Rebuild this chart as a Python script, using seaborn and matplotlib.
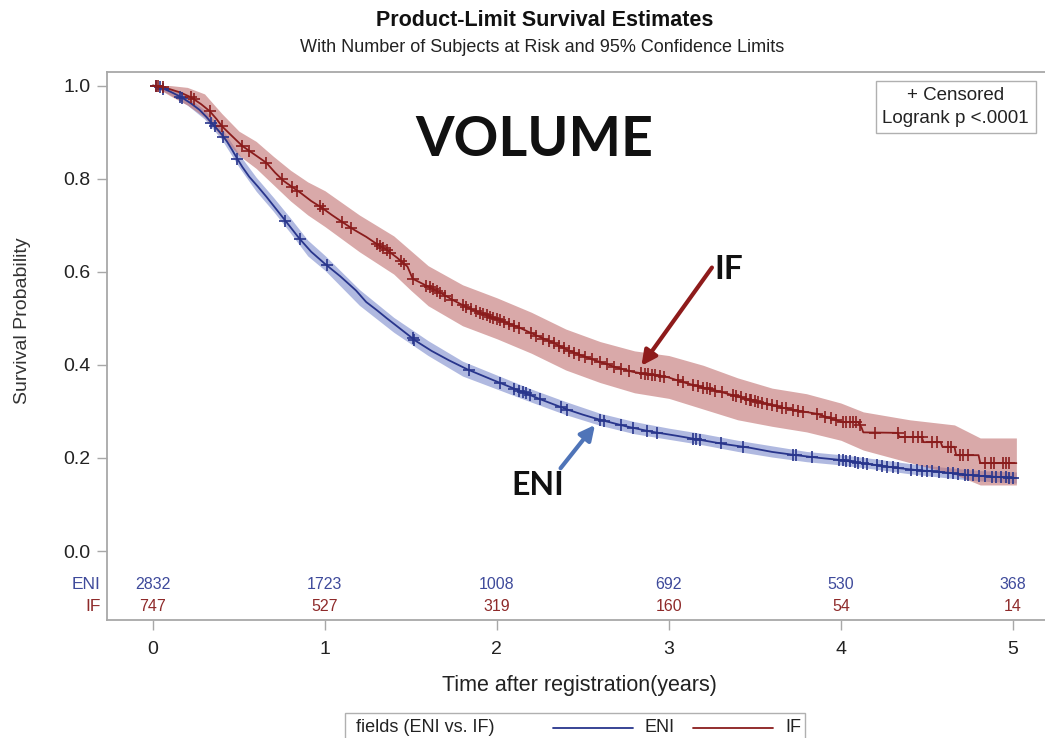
import numpy as np
import pandas as pd
import matplotlib
matplotlib.use("Agg")
import matplotlib.pyplot as plt
from matplotlib.lines import Line2D
from matplotlib.patches import Rectangle
from matplotlib.ticker import FormatStrFormatter
import seaborn as sns

# ---- Product-limit estimates (time in years, survival probability) ----
eni_time = [0.00, 0.05, 0.10, 0.16, 0.22, 0.27, 0.31, 0.34, 0.37, 0.40, 0.43, 0.46,
            0.49, 0.52, 0.56, 0.61, 0.66, 0.72, 0.78, 0.85, 0.92, 1.00, 1.09, 1.18,
            1.24, 1.30, 1.36, 1.44, 1.53, 1.62, 1.72, 1.83, 1.98, 2.12, 2.26, 2.41,
            2.50, 2.60, 2.75, 2.89, 3.04, 3.18, 3.32, 3.47, 3.60, 3.74, 3.88, 3.99,
            4.12, 4.24, 4.34, 4.44, 4.54, 4.63, 4.73, 4.83, 4.92, 5.02]
eni_surv = [1.000, 0.995, 0.987, 0.976, 0.962, 0.948, 0.933, 0.920, 0.908, 0.895, 0.880, 0.862,
            0.843, 0.825, 0.804, 0.783, 0.761, 0.733, 0.705, 0.672, 0.643, 0.617, 0.590, 0.560,
            0.535, 0.518, 0.500, 0.477, 0.451, 0.430, 0.410, 0.390, 0.367, 0.346, 0.325, 0.304,
            0.293, 0.282, 0.268, 0.257, 0.248, 0.239, 0.230, 0.222, 0.213, 0.206, 0.200, 0.196,
            0.189, 0.183, 0.178, 0.174, 0.171, 0.168, 0.164, 0.161, 0.159, 0.157]

# late IF drops are few and large, so each step is given as a start/end pair
if_time = [0.00, 0.05, 0.10, 0.16, 0.22, 0.28, 0.33, 0.37, 0.40, 0.45, 0.52, 0.59,
           0.66, 0.71, 0.76, 0.81, 0.86, 0.92, 0.98, 1.04, 1.10, 1.17, 1.24, 1.30,
           1.36, 1.42, 1.48, 1.51, 1.59, 1.67, 1.75, 1.83, 1.90, 1.98, 2.06, 2.13,
           2.23, 2.33, 2.41, 2.50, 2.60, 2.70, 2.79, 2.89, 2.99, 3.08, 3.18, 3.28,
           3.37, 3.47, 3.57, 3.66, 3.76, 3.86, 3.94, 4.01, 4.10, 4.12, 4.13, 4.33,
           4.34, 4.47, 4.48, 4.58, 4.59, 4.66, 4.67, 4.80, 4.81, 5.02]
if_surv = [1.000, 0.997, 0.992, 0.985, 0.975, 0.960, 0.945, 0.928, 0.913, 0.895, 0.870, 0.852,
           0.834, 0.813, 0.795, 0.782, 0.769, 0.752, 0.738, 0.722, 0.707, 0.690, 0.675, 0.660,
           0.647, 0.630, 0.611, 0.585, 0.570, 0.555, 0.538, 0.523, 0.512, 0.501, 0.490, 0.480,
           0.463, 0.447, 0.432, 0.419, 0.406, 0.394, 0.385, 0.379, 0.374, 0.363, 0.353, 0.344,
           0.335, 0.325, 0.316, 0.308, 0.301, 0.295, 0.285, 0.277, 0.277, 0.265, 0.255, 0.254,
           0.245, 0.245, 0.234, 0.234, 0.224, 0.224, 0.206, 0.206, 0.189, 0.189]

# ---- 95% confidence limits ----
eni_ci_time = [0.00, 0.10, 0.20, 0.30, 0.40, 0.50, 0.60, 0.70, 0.80, 0.90, 1.00, 1.20,
               1.40, 1.60, 1.80, 2.00, 2.20, 2.40, 2.60, 2.80, 3.00, 3.20, 3.40, 3.60,
               3.80, 4.00, 4.20, 4.40, 4.60, 4.80, 5.02]
eni_ci_lower = [1.000, 0.980, 0.958, 0.928, 0.884, 0.825, 0.773, 0.730, 0.683, 0.634, 0.603, 0.528,
                0.470, 0.420, 0.376, 0.348, 0.320, 0.293, 0.270, 0.252, 0.240, 0.228, 0.214, 0.202,
                0.192, 0.185, 0.176, 0.166, 0.158, 0.151, 0.146]
eni_ci_upper = [1.000, 0.994, 0.976, 0.948, 0.908, 0.853, 0.803, 0.760, 0.715, 0.668, 0.635, 0.562,
                0.502, 0.452, 0.408, 0.378, 0.348, 0.321, 0.296, 0.278, 0.264, 0.252, 0.238, 0.226,
                0.214, 0.207, 0.198, 0.188, 0.180, 0.173, 0.170]

if_ci_time = [0.00, 0.10, 0.20, 0.30, 0.40, 0.50, 0.60, 0.70, 0.80, 0.90, 1.00, 1.20,
              1.40, 1.50, 1.60, 1.80, 2.00, 2.20, 2.40, 2.60, 2.80, 3.00, 3.20, 3.40,
              3.60, 3.80, 4.00, 4.13, 4.40, 4.66, 4.81, 5.02]
if_ci_lower = [1.000, 0.978, 0.958, 0.932, 0.890, 0.850, 0.822, 0.787, 0.752, 0.722, 0.697, 0.643,
               0.595, 0.560, 0.527, 0.484, 0.456, 0.425, 0.389, 0.362, 0.340, 0.328, 0.305, 0.282,
               0.268, 0.256, 0.238, 0.217, 0.190, 0.165, 0.142, 0.142]
if_ci_upper = [1.000, 1.000, 0.996, 0.982, 0.940, 0.902, 0.880, 0.848, 0.818, 0.793, 0.774, 0.722,
               0.677, 0.645, 0.613, 0.572, 0.544, 0.513, 0.477, 0.450, 0.430, 0.420, 0.399, 0.372,
               0.350, 0.338, 0.318, 0.299, 0.282, 0.271, 0.243, 0.243]

# ---- censoring times ----
eni_censor = [0.02, 0.04, 0.06, 0.16, 0.17, 0.34, 0.36, 0.41, 0.49, 0.77, 0.855, 1.01,
              1.51, 1.52, 1.84, 2.02, 2.10, 2.13, 2.15, 2.17, 2.19, 2.25, 2.37, 2.41,
              2.60, 2.62, 2.72, 2.79, 2.87, 2.93, 3.14, 3.16, 3.18, 3.30, 3.43, 3.72,
              3.74, 3.83, 3.99, 4.01, 4.03, 4.05, 4.08, 4.10, 4.13, 4.15, 4.21, 4.24,
              4.27, 4.30, 4.33, 4.41, 4.44, 4.47, 4.50, 4.53, 4.57, 4.62, 4.65, 4.68,
              4.72, 4.74, 4.77, 4.80, 4.84, 4.88, 4.90, 4.93, 4.96, 4.98, 5.00]
if_censor = [0.02, 0.03, 0.06, 0.22, 0.24, 0.33, 0.40, 0.52, 0.56, 0.66, 0.75, 0.81,
             0.84, 0.97, 0.99, 1.10, 1.15, 1.30, 1.32, 1.34, 1.36, 1.38, 1.44, 1.46,
             1.51, 1.59, 1.61, 1.63, 1.65, 1.67, 1.70, 1.74, 1.80, 1.82, 1.85, 1.88,
             1.90, 1.92, 1.94, 1.96, 1.98, 2.00, 2.02, 2.04, 2.07, 2.10, 2.13, 2.20,
             2.23, 2.27, 2.30, 2.33, 2.36, 2.39, 2.42, 2.45, 2.48, 2.51, 2.55, 2.60,
             2.64, 2.68, 2.72, 2.77, 2.84, 2.86, 2.88, 2.90, 2.92, 2.95, 2.97, 3.05,
             3.08, 3.14, 3.17, 3.20, 3.22, 3.24, 3.27, 3.31, 3.37, 3.39, 3.42, 3.45,
             3.47, 3.48, 3.50, 3.52, 3.54, 3.57, 3.60, 3.63, 3.66, 3.68, 3.72, 3.75,
             3.78, 3.86, 3.91, 3.94, 3.97, 4.01, 4.03, 4.05, 4.07, 4.09, 4.11, 4.20,
             4.33, 4.37, 4.42, 4.45, 4.47, 4.53, 4.56, 4.62, 4.64, 4.69, 4.71, 4.74,
             4.84, 4.87, 4.89, 4.94, 4.96, 4.98]

# ---- number at risk ----
risk_times = [0, 1, 2, 3, 4, 5]
eni_at_risk = [2832, 1723, 1008, 692, 530, 368]
if_at_risk = [747, 527, 319, 160, 54, 14]

line_colors = {"ENI": "#28358C", "IF": "#8A1C1C"}
band_colors = {"ENI": "#6F80C8", "IF": "#C07070"}
table_colors = {"ENI": "#3E4A9B", "IF": "#8E2A2A"}
frame_gray = "#A8A8A8"

sns.set_theme(style="white")
plt.rcParams["font.family"] = ["Liberation Sans", "DejaVu Sans"]
heavy = ["Lato", "Liberation Sans"]

fig = plt.figure(figsize=(10.45, 7.38), dpi=100)
ax = fig.add_axes([0.1024, 0.1599, 0.8995, 0.7425])

# confidence bands
ax.fill_between(eni_ci_time, eni_ci_lower, eni_ci_upper, color=band_colors["ENI"],
                alpha=0.55, lw=0, zorder=1)
ax.fill_between(if_ci_time, if_ci_lower, if_ci_upper, color=band_colors["IF"],
                alpha=0.6, lw=0, zorder=1.5)

# survival curves
curves = pd.concat([
    pd.DataFrame({"time": eni_time, "surv": eni_surv, "group": "ENI"}),
    pd.DataFrame({"time": if_time, "surv": if_surv, "group": "IF"}),
], ignore_index=True)
sns.lineplot(data=curves, x="time", y="surv", hue="group", palette=line_colors,
             estimator=None, sort=False, lw=1.3, legend=False, ax=ax, zorder=3)

# censoring marks placed on their curve
for g, ts, ss, cs in [("ENI", eni_time, eni_surv, eni_censor),
                      ("IF", if_time, if_surv, if_censor)]:
    ax.plot(cs, np.interp(cs, ts, ss), ls="none", marker="+", ms=8, mew=1.2,
            color=line_colors[g], zorder=4)

# axes styling
ax.set_xlim(-0.267, 5.198)
ax.set_ylim(-0.148, 1.029)
ax.set_xticks(risk_times)
ax.set_yticks([0.0, 0.2, 0.4, 0.6, 0.8, 1.0])
ax.yaxis.set_major_formatter(FormatStrFormatter("%.1f"))
for s in ax.spines.values():
    s.set_color(frame_gray)
    s.set_linewidth(1.3)
ax.tick_params(axis="both", which="major", direction="out", length=7, width=1,
               color=frame_gray, labelcolor="#222222", left=True, bottom=True)
ax.tick_params(axis="y", labelsize=14, pad=5)
ax.tick_params(axis="x", labelsize=14, pad=8)

ax.set_ylabel("Survival Probability", fontsize=14, color="#333333")
ax.yaxis.set_label_coords(-0.0904, 0.547)
ax.yaxis.label.set_va("center")
ax.set_xlabel("Time after registration(years)", fontsize=15.5, color="#222222")
ax.xaxis.set_label_coords(0.503, -0.1204)
ax.xaxis.label.set_va("center")

# number-at-risk table inside the frame
row_y = {"ENI": -0.071, "IF": -0.120}
for g, counts in [("ENI", eni_at_risk), ("IF", if_at_risk)]:
    ax.text(-0.305, row_y[g], g, ha="right", va="center", fontsize=12.5,
            color=table_colors[g])
    for t, n in zip(risk_times, counts):
        ax.text(t, row_y[g], str(n), ha="center", va="center", fontsize=11.5,
                color=table_colors[g])

# inset note
ax.text(0.903, 0.936, "+ Censored\nLogrank p <.0001", transform=ax.transAxes,
        ha="center", va="center", fontsize=13.5, color="#222222", linespacing=1.4,
        bbox=dict(boxstyle="square,pad=0.35", fc="white", ec="#B0B0B0", lw=1.0))

# annotations
ax.text(2.22, 0.884, "VOLUME", ha="center", va="center", fontsize=40,
        fontweight="bold", family=heavy, color="#111111")
ax.text(3.265, 0.604, "IF", ha="left", va="center", fontsize=24,
        fontweight="bold", family=heavy, color="#111111")
ax.text(2.24, 0.140, "ENI", ha="center", va="center", fontsize=23,
        fontweight="bold", family=heavy, color="#111111")
ax.annotate("", xy=(2.84, 0.398), xytext=(3.25, 0.609),
            arrowprops=dict(arrowstyle="-|>", color="#8E1B1B", lw=3,
                            mutation_scale=22, shrinkA=0, shrinkB=0), zorder=5)
ax.annotate("", xy=(2.57, 0.271), xytext=(2.37, 0.178),
            arrowprops=dict(arrowstyle="-|>", color="#4F74B8", lw=3,
                            mutation_scale=22, shrinkA=0, shrinkB=0), zorder=5)

# titles
fig.text(0.521, 1 - 20 / 738, "Product-Limit Survival Estimates", ha="center",
         va="center", fontsize=15.5, fontweight="bold", color="#111111")
fig.text(0.519, 1 - 47 / 738, "With Number of Subjects at Risk and 95% Confidence Limits",
         ha="center", va="center", fontsize=13, color="#222222")

# group legend at the bottom
W, H = 1045, 738
fig.patches.append(Rectangle((345 / W, -0.02), (805 - 345) / W, 0.02 + (1 - 713 / H),
                             transform=fig.transFigure, fill=False, ec="#B0B0B0", lw=1.0))
yl = 1 - 728 / H
fig.text(356 / W, yl, "fields (ENI vs. IF)", ha="left", va="center", fontsize=13,
         color="#222222")
fig.lines.append(Line2D([553 / W, 633 / W], [yl, yl], transform=fig.transFigure,
                        color=line_colors["ENI"], lw=1.3))
fig.text(645 / W, yl, "ENI", ha="left", va="center", fontsize=13, color="#222222")
fig.lines.append(Line2D([693 / W, 773 / W], [yl, yl], transform=fig.transFigure,
                        color=line_colors["IF"], lw=1.3))
fig.text(785 / W, yl, "IF", ha="left", va="center", fontsize=13, color="#222222")

fig.savefig("out.png", dpi=100)
